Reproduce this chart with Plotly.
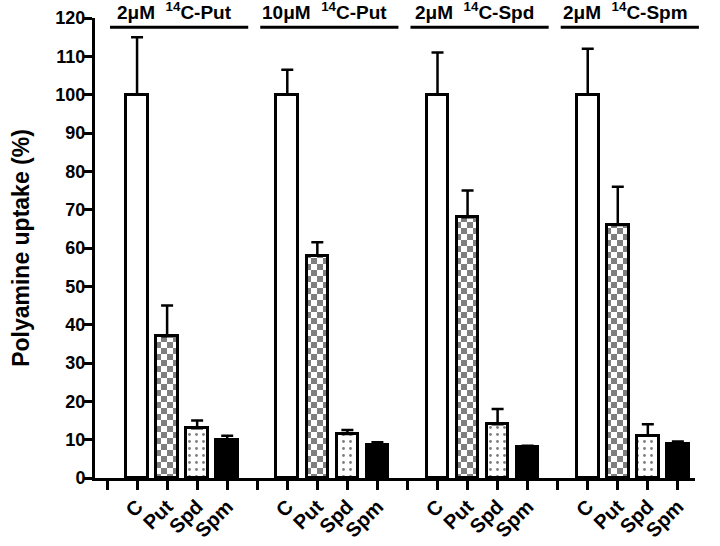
import plotly.graph_objects as go

# ---- data ----
groups = ["2μM&nbsp;&nbsp;<sup>14</sup>C-Put", "10μM&nbsp;&nbsp;<sup>14</sup>C-Put",
          "2μM&nbsp;&nbsp;<sup>14</sup>C-Spd", "2μM&nbsp;&nbsp;<sup>14</sup>C-Spm"]
treatments = ["C", "Put", "Spd", "Spm"]
vals_C = [100, 100, 100, 100]
err_C = [15, 6.5, 11, 12]
vals_Put = [37, 58, 68, 66]
err_Put = [8, 3.5, 7, 10]
vals_Spd = [13, 11.5, 14, 11]
err_Spd = [2, 1, 4, 3]
vals_Spm = [10, 8.5, 8, 9]
err_Spm = [1, 0.8, 0.4, 0.5]
y_ticks = list(range(0, 121, 10))

series_vals = [vals_C, vals_Put, vals_Spd, vals_Spm]
series_err = [err_C, err_Put, err_Spd, err_Spm]

FONT = "Liberation Sans, Arial, sans-serif"
step = 5  # slots per group (4 bars + gap)

styles = [
    dict(color="white", pattern=None),
    dict(color="white", pattern=dict(path="M0,0H6V6H0Z M6,6H12V12H6Z", fgcolor="black",
                                     bgcolor="white", size=12, solidity=1)),
    dict(color="white", pattern=dict(shape=".", fgcolor="black", bgcolor="white",
                                     size=7, solidity=0.13)),
    dict(color="black", pattern=None),
]

fig = go.Figure()
for ti, (name, vals, errs, st) in enumerate(zip(treatments, series_vals, series_err, styles)):
    xs = [1 + step * g + ti for g in range(len(groups))]
    marker = dict(color=st["color"], line=dict(color="black", width=3))
    if st["pattern"]:
        marker["pattern"] = st["pattern"]
    fig.add_trace(go.Bar(
        x=xs, y=vals, name=name, width=0.72, marker=marker,
        error_y=dict(type="data", array=errs, arrayminus=[0] * len(errs),
                     symmetric=False, color="black", thickness=2.5, width=6),
        showlegend=False,
    ))

n_slots = step * len(groups)
tickvals = list(range(n_slots))
ticktext = ["" if i % step == 0 else treatments[(i % step) - 1] for i in tickvals]
xmin, xmax = -0.4, n_slots - 0.43

# group headers
for g, label in enumerate(groups):
    s = 1 + step * g
    x0, x1 = s - 0.9, s + 3.7
    p0 = (x0 - xmin) / (xmax - xmin)
    p1 = (x1 - xmin) / (xmax - xmin)
    fig.add_shape(type="line", xref="paper", yref="paper", x0=p0, x1=p1,
                  y0=0.980, y1=0.980, line=dict(color="black", width=3))
    fig.add_annotation(xref="paper", yref="paper", x=(p0 + p1) / 2 - 0.008, y=0.984,
                       text=label, showarrow=False, xanchor="center", yanchor="bottom",
                       font=dict(family=FONT, size=19, color="black", weight="bold"))

fig.update_layout(
    width=720, height=546,
    margin=dict(l=95, r=25, t=18, b=68),
    plot_bgcolor="white", paper_bgcolor="white",
    bargap=0,
    font=dict(family=FONT, color="black"),
)
fig.update_xaxes(
    range=[xmin, xmax], tickmode="array", tickvals=tickvals, ticktext=ticktext,
    tickangle=-45, ticks="outside", ticklen=9, tickwidth=3, tickcolor="black",
    ticklabelstandoff=-3, automargin=False,
    showline=True, linecolor="black", linewidth=3, showgrid=False, zeroline=False,
    tickfont=dict(family=FONT, size=20, color="black", weight="bold"),
)
fig.update_yaxes(
    range=[0, 120], tickmode="array", tickvals=y_ticks, automargin=False,
    ticks="outside", ticklen=8, tickwidth=3, tickcolor="black",
    ticklabelstandoff=-5,
    showline=True, linecolor="black", linewidth=3, showgrid=False, zeroline=False,
    tickfont=dict(family=FONT, size=18, color="black", weight="bold"),
    title=dict(text="Polyamine uptake (%)", standoff=20,
               font=dict(family=FONT, size=23, color="black", weight="bold")),
)

fig.write_html("out.html", config={"displayModeBar": False},
               post_script="document.body.style.margin='0';document.body.style.padding='0';")
